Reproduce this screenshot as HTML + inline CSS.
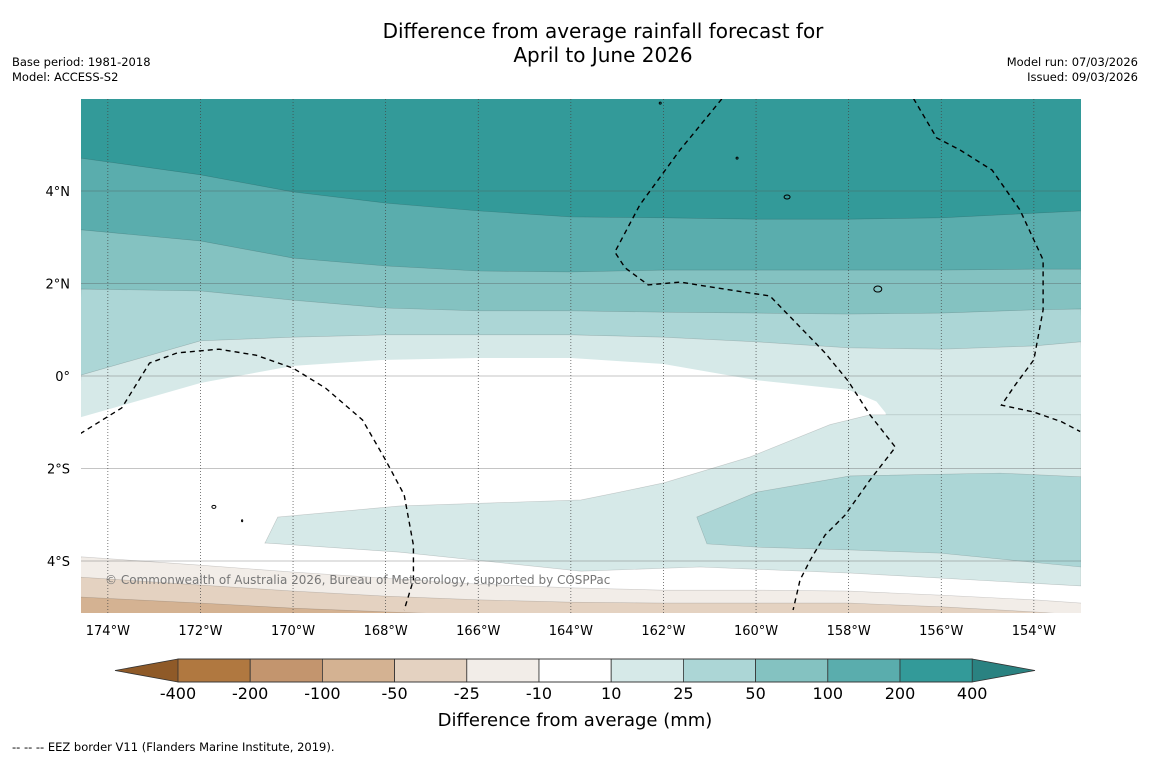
<!DOCTYPE html>
<html><head><meta charset="utf-8">
<style>
body{margin:0;background:#fff;width:1150px;height:758px;overflow:hidden;font-family:"Liberation Sans","DejaVu Sans",sans-serif;}
svg text{font-family:"DejaVu Sans","Liberation Sans",sans-serif;}
</style></head>
<body>
<svg id="chart" width="1150" height="758" xmlns="http://www.w3.org/2000/svg">
<text x="603" y="38" font-size="20" text-anchor="middle">Difference from average rainfall forecast for</text>
<text x="603" y="62" font-size="20" text-anchor="middle">April to June 2026</text>
<text x="12" y="66" font-size="11.5">Base period: 1981-2018</text>
<text x="12" y="81" font-size="11.5">Model: ACCESS-S2</text>
<text x="1138" y="66" font-size="11.5" text-anchor="end">Model run: 07/03/2026</text>
<text x="1138" y="81" font-size="11.5" text-anchor="end">Issued: 09/03/2026</text>
<defs><clipPath id="mapclip"><rect x="81" y="99" width="1000" height="514"/></clipPath></defs>
<g id="map" clip-path="url(#mapclip)"></g>
<g id="axes"></g>
<g id="cbar"></g>
<text x="575" y="726" font-size="18" text-anchor="middle">Difference from average (mm)</text>
<text x="12" y="751" font-size="11.5">--  --  -- EEZ border V11 (Flanders Marine Institute, 2019).</text>
</svg>
<script>
// ---- data ----
const levels = [-400,-200,-100,-50,-25,-10,10,25,50,100,200,400];
const bandColors = ["#b07840","#c3956e","#d4b292","#e4d2c1","#f2ede8","#ffffff","#d6e9e8","#acd6d6","#84c2c1","#5aadad","#339a99"];
const lowColor = "#8f5a28", highColor = "#2a8281";
const lonTicks = [-174,-172,-170,-168,-166,-164,-162,-160,-158,-156,-154];
const latTicks = [4,2,0,-2,-4];
const gridLons = [-174.58,-172,-170,-168,-166,-164,-162,-160,-158,-156,-154,-152.98];
const lat200 = [4.71,4.35,3.98,3.74,3.57,3.44,3.42,3.39,3.39,3.42,3.52,3.57];
const lat100 = [3.16,2.92,2.55,2.38,2.27,2.25,2.29,2.29,2.29,2.29,2.31,2.31];
const lat50  = [1.88,1.84,1.64,1.47,1.41,1.41,1.38,1.36,1.34,1.36,1.43,1.45];
const lat25  = [0.02,0.76,0.84,0.89,0.89,0.89,0.84,0.74,0.61,0.58,0.65,0.74];
const latNeg10 = [-3.91,-4.09,-4.24,-4.37,-4.50,-4.58,-4.63,-4.63,-4.65,-4.74,-4.84,-4.91];
const latNeg25 = [-4.35,-4.52,-4.65,-4.76,-4.84,-4.89,-4.91,-4.91,-4.91,-4.99,-5.10,-5.17];
const latNeg50 = [-4.78,-4.91,-5.02,-5.10,-5.17,-5.3,-5.3,-5.3,-5.3,-5.3,-5.3,-5.3];
const dryLon = [-174.58,-172,-170,-168,-166,-164,-162,-160,-158,-157.4,-157.2,-157.2,-152.9,-152.9,-174.7];
const dryLat = [-0.89,-0.15,0.22,0.35,0.39,0.39,0.26,-0.09,-0.30,-0.55,-0.8,-4.0,-4.4,-5.5,-5.5];
const paleLon = [-170.61,-170.33,-167.69,-163.78,-162.94,-161.99,-160.13,-158.40,-157.54,-152.98,-152.98,-157.97,-161.21,-163.78,-167.69,-170.61];
const paleLat = [-3.62,-3.05,-2.81,-2.68,-2.51,-2.31,-1.75,-1.05,-0.84,-0.84,-4.54,-4.26,-4.13,-4.22,-3.81,-3.61];
const blobLon = [-161.28,-159.98,-157.97,-154.73,-152.98,-152.98,-156.03,-157.97,-159.98,-161.06];
const blobLat = [-3.05,-2.51,-2.16,-2.10,-2.18,-4.13,-3.83,-3.76,-3.70,-3.63];
const eezA = [[-174.6,-1.25],[-173.7,-0.69],[-173.1,0.28],[-172.5,0.5],[-171.6,0.58],[-170.8,0.45],[-170,0.17],[-169.3,-0.26],[-168.5,-0.95],[-168,-1.82],[-167.6,-2.57],[-167.4,-3.66],[-167.4,-4.41],[-167.6,-5.06]];
const eezB = [[-160.74,5.99],[-161.64,4.89],[-162.51,3.70],[-163.05,2.68],[-162.83,2.34],[-162.33,1.97],[-161.64,2.03],[-160.56,1.86],[-159.70,1.73],[-159.05,1.06],[-158.51,0.50],[-158.01,-0.11],[-157.54,-0.84],[-156.99,-1.54],[-157.54,-2.25],[-158.08,-3.01],[-158.51,-3.44],[-158.83,-3.98],[-159.05,-4.41],[-159.20,-5.06]];
const eezC = [[-156.6,6.0],[-156.1,5.15],[-155.6,4.89],[-154.9,4.45],[-154.3,3.59],[-153.8,2.51],[-153.8,1.43],[-154.0,0.35],[-154.4,-0.19],[-154.7,-0.63],[-154.0,-0.78],[-153.4,-0.99],[-153.0,-1.2]];

const NS="http://www.w3.org/2000/svg";
const X = lon => 81 + (lon + 174.58) * 46.3;
const Y = lat => 376 - lat * 46.25;
function mk(tag, attrs, parent){const e=document.createElementNS(NS,tag);for(const k in attrs)e.setAttribute(k,attrs[k]);parent.appendChild(e);return e;}
const map=document.getElementById('map');
const colorFor = lv => bandColors[levels.indexOf(lv)];
function belowLine(lats, color, name){
  let pts = gridLons.map((l,i)=>X(l)+','+Y(lats[i]));
  pts.push('1090,620','70,620');
  const p=mk('polygon',{points:pts.join(' '),fill:color,stroke:'rgba(0,0,0,0.18)','stroke-width':0.6},map);
  
  
}
function poly(lons,lats,color,stroke){
  const pts=lons.map((l,i)=>X(l)+','+Y(lats[i]));
  return mk('polygon',{points:pts.join(' '),fill:color,stroke:stroke||'rgba(0,0,0,0.18)','stroke-width':0.6},map);
}
const bg=mk('rect',{x:81,y:99,width:1000,height:514,fill:colorFor(200)},map);


belowLine(lat200, colorFor(100), 'band-100-200');
belowLine(lat100, colorFor(50), 'band-50-100');
belowLine(lat50, colorFor(25), 'band-25-50');
belowLine(lat25, colorFor(10), 'band-10-25');
const wp=poly(dryLon,dryLat,colorFor(-10),'none');


const pp=poly(paleLon,paleLat,colorFor(10));


const bp=poly(blobLon,blobLat,colorFor(25));


belowLine(latNeg10, colorFor(-25), 'band-neg10-neg25');
belowLine(latNeg25, colorFor(-50), 'band-neg25-neg50');
belowLine(latNeg50, colorFor(-100), 'band-neg50-neg100');
// gridlines
latTicks.forEach(t=>{
  const l=mk('line',{x1:81,x2:1081,y1:Y(t),y2:Y(t),stroke:'rgba(80,80,80,0.45)','stroke-width':0.8},map);
  
  
});
lonTicks.forEach(t=>{
  const l=mk('line',{x1:X(t),x2:X(t),y1:99,y2:613,stroke:'#444','stroke-width':0.7,'stroke-dasharray':'1,2'},map);
  
  
});
// EEZ
[eezA,eezB,eezC].forEach(arr=>{
  const l=mk('polyline',{points:arr.map(p=>X(p[0])+','+Y(p[1])).join(' '),fill:'none',stroke:'#000','stroke-width':1.4,'stroke-dasharray':'5,4'},map);
  
  
});
// islands
[[-159.33,3.87,3,2],[-157.37,1.88,4,3],[-171.71,-2.83,2,1.5],[-160.41,4.71,1,1],[-162.07,5.9,1,1],[-171.1,-3.13,0.6,1]].forEach(a=>{
  const e=mk('ellipse',{cx:X(a[0]),cy:Y(a[1]),rx:a[2],ry:a[3],fill:'none',stroke:'#000','stroke-width':1},map);
  
  
});
const cp=mk('text',{x:105,y:584,'font-size':12,fill:'#777'},map);
cp.textContent='© Commonwealth of Australia 2026, Bureau of Meteorology, supported by COSPPac';


// axes labels
const axes=document.getElementById('axes');
lonTicks.forEach(t=>{
  const tx=mk('text',{x:X(t),y:635,'font-size':13,'text-anchor':'middle'},axes);
  tx.textContent=Math.abs(t)+'°W';
  
  
});
latTicks.forEach(t=>{
  const tx=mk('text',{x:70,y:Y(t)+5,'font-size':13,'text-anchor':'end'},axes);
  tx.textContent=t===0?'0°':Math.abs(t)+'°'+(t>0?'N':'S');
  
  
});
// colorbar
const cb=document.getElementById('cbar');
const cx0=178, cw=72.2, cy=659, ch=23;
const lt=mk('polygon',{points:`${cx0},${cy} 115,${cy+ch/2} ${cx0},${cy+ch}`,fill:lowColor},cb);


const n=bandColors.length, xe=cx0+n*cw;
const rt=mk('polygon',{points:`${xe},${cy} 1035,${cy+ch/2} ${xe},${cy+ch}`,fill:highColor},cb);


bandColors.forEach((c,i)=>{
  const r=mk('rect',{x:cx0+i*cw,y:cy,width:cw,height:ch,fill:c,stroke:'#333','stroke-width':0.8},cb);
  
  
});
mk('polygon',{points:`115,${cy+ch/2} ${cx0},${cy} ${xe},${cy} 1035,${cy+ch/2} ${xe},${cy+ch} ${cx0},${cy+ch}`,fill:'none',stroke:'#333','stroke-width':0.8},cb);
levels.forEach((v,i)=>{
  const tx=mk('text',{x:cx0+i*cw,y:699,'font-size':16,'text-anchor':'middle'},cb);
  tx.textContent=v;
  
  
});
</script>
</body></html>
